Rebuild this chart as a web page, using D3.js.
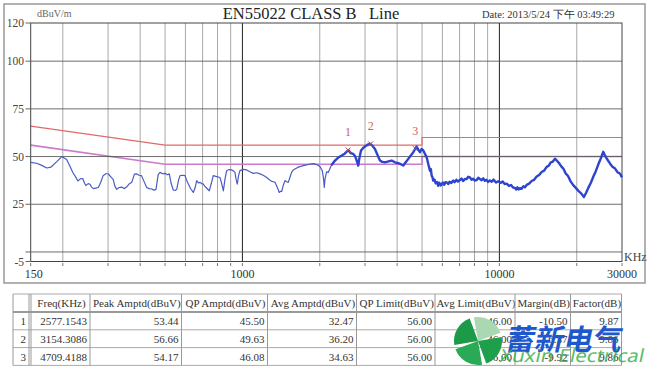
<!DOCTYPE html>
<html>
<head>
<meta charset="utf-8">
<script src="https://cdn.jsdelivr.net/npm/d3@7"></script>
<style>
  body { margin: 0; background: #fff; }
  text { font-family: "Liberation Serif", "Times New Roman", serif; }
</style>
</head>
<body>
<svg id="chart" width="650" height="370"></svg>
<script>

// ---- chart data ----
var yTicks = [-5, 0, 25, 50, 75, 100, 120];
var yTickLabels = ["-5", "", "25", "50", "75", "100", "120"];
var xGrid = [200, 300, 400, 500, 600, 700, 800, 900, 1000, 2000, 3000, 4000, 5000, 6000, 7000, 8000, 9000, 10000, 20000];
var xLabels = [150, 1000, 10000, 30000];

// EN55022 class B limits
var limitFreq = [150, 500, 5000, 5000, 30000];
var qpLimit = [66, 56, 56, 60, 60];
var avgLimit = [56, 46, 46, 50, 50];

// measured peak trace (kHz, dBuV)
var traceFreq = [150, 158, 165, 173, 180, 190, 198, 207, 213, 219, 224, 229, 234, 239, 243, 246, 251, 255, 259, 263,
  269, 275, 281, 287, 294, 300, 307, 314, 319, 324, 331, 339, 346, 354, 362, 371, 380, 388, 396, 405,
  414, 424, 434, 444, 452, 461, 470, 478, 489, 500, 510, 519, 528, 538, 547, 555, 565, 572, 585, 598,
  607, 616, 630, 644, 654, 664, 674, 684, 694, 704, 713, 722, 732, 743, 757, 770, 794, 818, 830, 843,
  855, 868, 888, 908, 922, 935, 945, 955, 966, 978, 1008, 1039, 1070, 1102, 1135, 1170, 1205, 1243, 1270, 1299,
  1320, 1339, 1365, 1391, 1407, 1422, 1443, 1464, 1486, 1508, 1530, 1554, 1578, 1602, 1640, 1674, 1700, 1760, 1832, 1890,
  1945, 1974, 2010, 2034, 2046, 2070, 2082, 2095, 2125, 2158, 2220, 2292, 2360, 2434, 2500, 2582, 2640, 2700, 2750, 2784,
  2805, 2824, 2850, 2894, 2950, 2999, 3070, 3135, 3200, 3279, 3350, 3429, 3500, 3586, 3700, 3809, 3920, 4041, 4130, 4227,
  4320, 4420, 4520, 4623, 4709, 4765, 4840, 4908, 4980, 5055, 5130, 5212,
  5287, 5368, 5410, 5450, 5490, 5530, 5590, 5650, 5720, 5783, 5830, 5870, 5920, 5961, 6030, 6100, 6170, 6234, 6320, 6400,
  6500, 6615, 6700, 6800, 6900, 7023, 7120, 7230, 7340, 7458, 7570, 7681, 7790, 7900, 8030, 8157, 8280, 8400, 8530, 8654,
  8780, 8900, 9040, 9189, 9340, 9500, 9700, 9900, 10100, 10300, 10480, 10673, 10900, 11100, 11300, 11495, 11620, 11750, 11880, 12022,
  12200, 12400, 12580, 12766, 13050, 13350, 13650, 13963, 14280, 14600, 14930, 15270, 15560, 15850, 16150, 16460, 16750, 17050, 17380, 17730,
  18100, 18500, 18930, 19380, 19830, 20300, 20800, 21330, 21750, 22200, 22700, 23190, 23700, 24250, 24800, 25350, 25700, 26100, 26500, 26940,
  27550, 28200, 28800, 29450, 30000];
var traceAmp = [47, 46.5, 45.5, 44, 44.5, 47.5, 50, 48.5, 45, 41.5, 39.5, 37.2, 38.3, 38.5, 36, 34.8, 35.8, 35.5, 34, 33.2,
  33.5, 33.8, 36.5, 40, 41, 41, 39.5, 38, 34.5, 32.8, 33.8, 34, 33.2, 34, 35.6, 36.5, 40.8, 40.9, 40.2, 40,
  37, 33.8, 33.2, 33, 32.4, 32.8, 40.5, 41.7, 41, 41.2, 40.5, 40.9, 36, 32.5, 32.2, 32.8, 38, 40, 40.2, 40,
  37.5, 35.6, 33, 31.2, 33.5, 37.4, 36.2, 36.5, 35.8, 35.6, 34.5, 33.8, 33, 32, 36, 40, 39.5, 39, 36, 32,
  38, 42.6, 43.2, 43, 42.5, 41.7, 38, 35.6, 40, 42.6, 43.3, 43, 42, 41.2, 41.5, 40.9, 40.2, 39, 38, 37,
  36.8, 36.5, 34, 31.2, 31.8, 31.7, 35, 37.4, 36.8, 36.5, 39, 41.7, 43, 43.5, 44.3, 44.7, 45, 45.5, 46.1, 46.3,
  45.8, 45.3, 44.5, 43, 42.6, 38, 33.8, 38, 42, 41.7, 45.5, 47.9, 49.5, 50.5, 51.5, 53.4, 51.8, 51.4, 50, 47.9,
  46.5, 45.3, 49, 53.2, 54.5, 55.3, 56.2, 56.7, 55.8, 54, 51, 47.9, 47.2, 47, 47.5, 47.9, 47, 46.5, 46, 45.3,
  47, 48.8, 50.5, 52.3, 54.2, 55.3, 53.5, 52.3, 54, 53.2, 51.5, 49.6,
  46.1, 42.6, 43.5, 40, 39.2, 37.4, 38, 36, 36.6, 34.7, 36.3, 35.8, 34.9, 35.6, 36.4, 35.2, 36.6, 36.5, 35.6, 36.8,
  36.2, 37.4, 36.6, 37.8, 36.9, 37.7, 38.5, 37.2, 38.3, 38.2, 39.4, 39.1, 37.9, 38.4, 37.4, 37.7, 38.9, 38.2, 37.6, 38.6,
  37.3, 37.8, 36.7, 37.5, 36.8, 37.9, 36.4, 37.1, 36.2, 36.9, 35.6, 35.8, 34.6, 35.1, 33.8, 33.6, 32.7, 33.9, 32.8, 33.4,
  33.1, 34.4, 33.9, 35.2, 35.8, 37.2, 37.8, 39.5, 40.3, 41.9, 42.6, 44.6, 45.2, 47, 47.4, 48.9, 47.8, 46.6, 45, 43.7,
  41.2, 39.8, 37, 35, 33.6, 32, 30.7, 28.8, 31, 33.7, 36.3, 39.4, 42.2, 45.8, 49, 52.5, 50.8, 49.2, 47.8, 46.4,
  44.6, 43.7, 41.8, 41.1, 39.1];

// marker table
var markerNo = [1, 2, 3];
var markerFreq = [2577.1543, 3154.3086, 4709.4188];
var peakAmp = [53.44, 56.66, 54.17];
var qpAmp = [45.50, 49.63, 46.08];
var avgAmp = [32.47, 36.20, 34.63];
var qpLim = [56.00, 56.00, 56.00];
var avgLim = [46.00, 46.00, 46.00];
var marginDb = [-10.50, -6.37, -9.92];
var factorDb = [9.87, 9.86, 9.86];
var tableHeaders = ["", "Freq(KHz)", "Peak Amptd(dBuV)", "QP Amptd(dBuV)", "Avg Amptd(dBuV)",
  "QP Limit(dBuV)", "Avg Limit(dBuV)", "Margin(dB)", "Factor(dB)"];

// ---- layout ----
var plot = { left: 30.7, right: 622, top: 23, bottom: 261.5 };
var svg = d3.select("#chart");

var x = d3.scaleLog().domain([150, 30000]).range([plot.left, plot.right]);
var y = d3.scaleLinear().domain([-5, 120]).range([plot.bottom, plot.top]);

// outer panel
svg.append("rect").attr("x", 4).attr("y", 4).attr("width", 641).attr("height", 279)
  .style("fill", "#fff").style("stroke", "#999").style("stroke-width", 1.5);

// titles
svg.append("text").attr("x", 311).attr("y", 19).attr("text-anchor", "middle")
  .style("font-size", "16.5px").style("fill", "#222").text("EN55022 CLASS B   Line")
  .attr("xml:space", "preserve");
svg.append("text").attr("x", 37).attr("y", 17).style("font-size", "10px").style("fill", "#666").text("dBuV/m");
svg.append("text").attr("x", 482).attr("y", 18).style("font-size", "10.5px").style("fill", "#333")
  .text("Date: 2013/5/24 下午 03:49:29");

// vertical grid
svg.append("g").selectAll("line").data(xGrid).enter().append("line")
  .attr("x1", function(d) { return x(d); }).attr("x2", function(d) { return x(d); })
  .attr("y1", plot.top).attr("y2", plot.bottom)
  .style("stroke", function(d) { return (d == 1000 || d == 10000) ? "#222" : "#a8a8a8"; })
  .style("stroke-width", 1);

// limit lines (under the grid lines so the 50 dB line darkens the avg limit)
var limLine = d3.line().x(function(d) { return x(d[0]); }).y(function(d) { return y(d[1]); });
svg.append("path").datum(d3.zip(limitFreq, qpLimit)).attr("d", limLine)
  .style("fill", "none").style("stroke", "#e06a6a").style("stroke-width", 1.2);
svg.append("path").datum(d3.zip(limitFreq, avgLimit)).attr("d", limLine)
  .style("fill", "none").style("stroke", "#cc7acc").style("stroke-width", 1.6);

// horizontal grid
svg.append("g").selectAll("line").data(yTicks.filter(function(d) { return d > -5 && d < 120; })).enter().append("line")
  .attr("x1", plot.left).attr("x2", plot.right)
  .attr("y1", function(d) { return y(d); }).attr("y2", function(d) { return y(d); })
  .style("stroke", "#555").style("stroke-width", 1).style("opacity", 0.85);

// frame
svg.append("rect").attr("x", plot.left).attr("y", plot.top)
  .attr("width", plot.right - plot.left).attr("height", plot.bottom - plot.top)
  .style("fill", "none").style("stroke", "#444").style("stroke-width", 1);

// y ticks + labels
var yAxis = svg.append("g");
yTicks.forEach(function(d, i) {
  yAxis.append("line").attr("x1", 25.5).attr("x2", plot.left).attr("y1", y(d)).attr("y2", y(d))
    .style("stroke", "#666");
  yAxis.append("text").attr("x", 24).attr("y", y(d) + 4).attr("text-anchor", "end")
    .style("font-size", "11.5px").style("fill", "#444").text(yTickLabels[i]);
});

// x ticks + labels
var xAxis = svg.append("g");
[150].concat(xGrid).concat([30000]).forEach(function(d) {
  xAxis.append("line").attr("x1", x(d)).attr("x2", x(d)).attr("y1", plot.bottom + 1.5).attr("y2", plot.bottom + 4.5)
    .style("stroke", "#777");
});
xLabels.forEach(function(d) {
  xAxis.append("text").attr("x", x(d) + (d == 150 ? 3 : 0)).attr("y", 278).attr("text-anchor", "middle")
    .style("font-size", "12px").style("fill", "#333").text(d);
});
svg.append("text").attr("x", 624).attr("y", 261).style("font-size", "12px").style("fill", "#444").text("KHz");

// trace
var trace = d3.zip(traceFreq, traceAmp);
svg.append("path").datum(trace.filter(function(d) { return d[0] <= 2300; })).attr("d", limLine)
  .style("fill", "none").style("stroke", "#4a5cc4").style("stroke-width", 1.2).style("stroke-linejoin", "round");
svg.append("path").datum(trace.filter(function(d) { return d[0] >= 2220; })).attr("d", limLine)
  .style("fill", "none").style("stroke", "#2f44cc").style("stroke-width", 2.4).style("stroke-linejoin", "round");

// markers
var sym = d3.symbol().type(d3.symbolTimes).size(18);
markerNo.forEach(function(n, i) {
  svg.append("path").attr("d", sym).attr("transform", "translate(" + x(markerFreq[i]) + "," + y(peakAmp[i]) + ")")
    .style("fill", "none").style("stroke", "#d04040").style("stroke-width", 1);
  svg.append("text").attr("x", x(markerFreq[i])).attr("y", y(peakAmp[i]) - 14).attr("text-anchor", "middle")
    .style("font-size", "12px").style("fill", "#d06060").text(n);
});

// ---- table ----
var colEdge = [13, 31, 90, 181.5, 267.5, 356.5, 435, 515, 570.5, 621.5];
var rowEdge = [294, 312, 329.8, 347.6, 365.4];
var tbl = svg.append("g");

tableHeaders.forEach(function(h, c) {
  tbl.append("text").attr("x", (colEdge[c] + colEdge[c + 1]) / 2 + 1).attr("y", 307)
    .attr("text-anchor", "middle").style("font-size", "11px").style("fill", "#333").text(h);
});

var rows = markerNo.map(function(n, i) {
  return [n, markerFreq[i].toFixed(4), peakAmp[i].toFixed(2), qpAmp[i].toFixed(2), avgAmp[i].toFixed(2),
    qpLim[i].toFixed(2), avgLim[i].toFixed(2), marginDb[i].toFixed(2), factorDb[i].toFixed(2)];
});
rows.forEach(function(r, i) {
  r.forEach(function(v, c) {
    tbl.append("text").attr("x", colEdge[c + 1] - (c == 0 ? 5 : 3)).attr("y", rowEdge[i + 1] + 13)
      .attr("text-anchor", "end").style("font-size", "11px").style("fill", "#333").text(v);
  });
});

// grid lines of the table
rowEdge.forEach(function(yy, i) {
  tbl.append("line").attr("x1", colEdge[0]).attr("x2", colEdge[colEdge.length - 1]).attr("y1", yy).attr("y2", yy)
    .style("stroke", i == 1 ? "#999" : "#aaa").style("stroke-width", i == 1 ? 2 : 1);
});
colEdge.forEach(function(xx, i) {
  tbl.append("line").attr("x1", xx).attr("x2", xx).attr("y1", rowEdge[0]).attr("y2", rowEdge[rowEdge.length - 1])
    .style("stroke", "#999").style("stroke-width", 1);
});
tbl.append("line").attr("x1", 29).attr("x2", 29).attr("y1", rowEdge[0]).attr("y2", rowEdge[rowEdge.length - 1])
  .style("stroke", "#999");

// ---- watermark ----
var wm = svg.append("g").attr("transform", "translate(478,341) rotate(-15)");
var petal = d3.arc().innerRadius(0).outerRadius(24).padAngle(0.18).padRadius(24);
var petalColors = ["#a9d8b3", "#1e9f4c", "#2aa957", "#1c9a48"];
petalColors.forEach(function(c, i) {
  wm.append("path").attr("d", petal({ startAngle: i * Math.PI / 2, endAngle: (i + 1) * Math.PI / 2 }))
    .style("fill", c);
});
svg.append("text").attr("x", 506).attr("y", 350).attr("transform", "skewX(-12) translate(73,0)")
  .style("font-family", "'Noto Sans CJK SC', sans-serif").style("font-weight", "bold")
  .style("font-size", "29px").style("fill", "#1f58cc").text("蓄新电气");
svg.append("text").attr("x", 499).attr("y", 362).attr("transform", "skewX(-12) translate(77,0)")
  .attr("textLength", 144).attr("lengthAdjust", "spacingAndGlyphs")
  .style("font-family", "'Noto Sans', sans-serif").style("font-size", "18px")
  .style("fill", "#3cb04c").style("opacity", 0.85).text("Xuxin Electrical");

</script>
</body>
</html>
